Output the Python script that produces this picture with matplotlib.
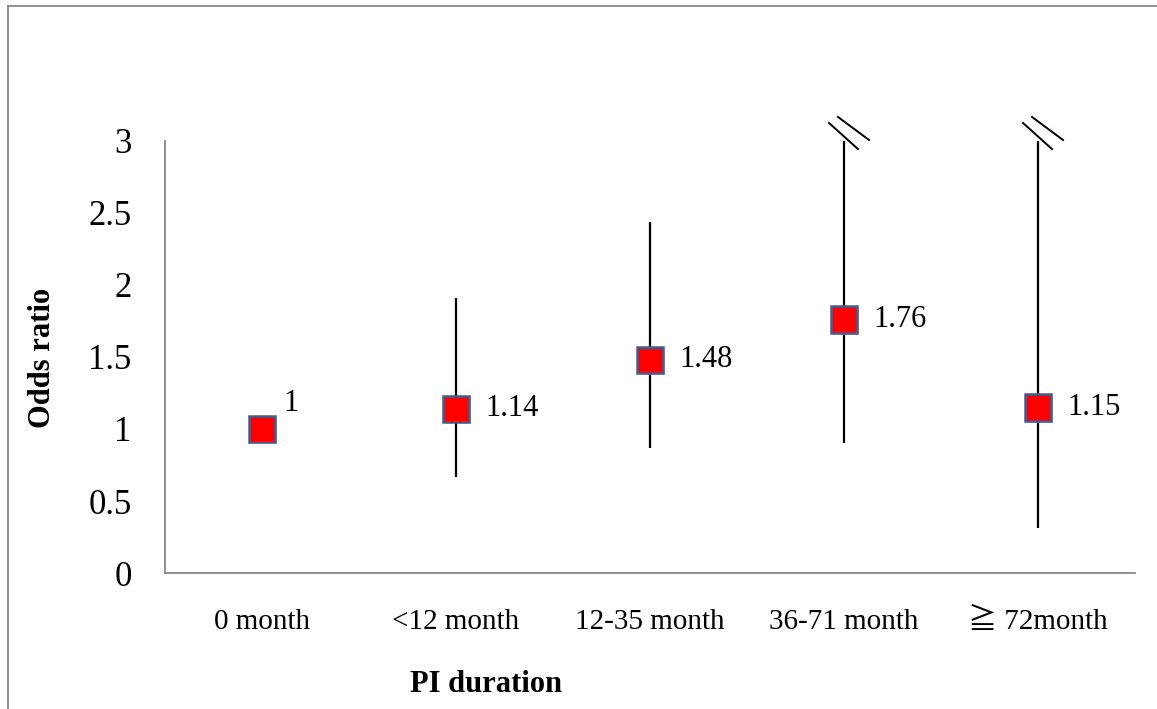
import numpy as np
import matplotlib
matplotlib.use('Agg')
import matplotlib.pyplot as plt
import matplotlib.patheffects as pe
from matplotlib.lines import Line2D

# Datos del gráfico
categorias = ['0 month', '<12 month', '12-35 month', '36-71 month', '\u2267 72month']
odds = [1.00, 1.14, 1.48, 1.76, 1.15]
ic_bajo = [np.nan, 0.67, 0.87, 0.90, 0.31]
ic_alto = [np.nan, 1.91, 2.44, 3.00, 3.00]
cortado = [False, False, False, True, True]   # IC superior fuera de escala
etiquetas = ['1', '1.14', '1.48', '1.76', '1.15']
yticks = [0, 0.5, 1, 1.5, 2, 2.5, 3]
ytick_labels = ['0', '0.5', '1', '1.5', '2', '2.5', '3']

serif = ['Liberation Serif', 'Noto Sans CJK JP', 'DejaVu Sans']
plt.rcParams['font.family'] = serif

fig = plt.figure(figsize=(11.57, 7.09), dpi=100)
W, H = 1157, 709
ax = fig.add_axes([165 / W, 1 - 573 / H, 970 / W, 432 / H])

x = np.arange(len(categorias)) + 0.5
gris = '#878787'

# intervalos de confianza
for xi, lo, hi in zip(x, ic_bajo, ic_alto):
    if np.isnan(lo):
        continue
    ax.plot([xi, xi], [lo, hi], color='black', lw=1.6, solid_capstyle='butt', zorder=2)

# marcas de corte
for xi, c in zip(x, cortado):
    if c:
        ax.plot([xi - 0.077, xi + 0.072], [3.125, 2.944], color='black', lw=1.4, clip_on=False)
        ax.plot([xi - 0.031, xi + 0.129], [3.167, 3.007], color='black', lw=1.4, clip_on=False)

# puntos
ax.plot(x, odds, linestyle='none', marker='s', markersize=19, markerfacecolor='#ff0000',
        markeredgecolor='#4a5a88', markeredgewidth=1.8, zorder=3,
        path_effects=[pe.SimplePatchShadow(offset=(1.5, -1.5), shadow_rgbFace='#888888', alpha=0.35),
                      pe.Normal()])

# etiquetas de datos
for i, (xi, yi, t) in enumerate(zip(x, odds, etiquetas)):
    if i == 0:
        ax.annotate(t, (xi, yi), xytext=(21, 18), textcoords='offset points',
                    ha='center', va='center', fontsize=22)
    else:
        ax.annotate(t, (xi, yi), xytext=(21, 0), textcoords='offset points',
                    ha='left', va='center', fontsize=22)

ax.set_xlim(0, len(categorias))
ax.set_ylim(0, 3)
ax.set_yticks(yticks)
ax.set_yticklabels(ytick_labels, fontsize=25)
ax.set_xticks(x)
ax.set_xticklabels(categorias, fontsize=21, family=serif)
ax.tick_params(axis='both', length=0)
ax.tick_params(axis='y', pad=24)
ax.tick_params(axis='x', pad=26)

for s in ['top', 'right']:
    ax.spines[s].set_visible(False)
for s in ['left', 'bottom']:
    ax.spines[s].set_color(gris)
    ax.spines[s].set_linewidth(1.3)

fig.text(486 / W, 1 - 684 / H, 'PI duration', ha='center', va='center',
         fontsize=22, fontweight='bold')
fig.text(42 / W, 1 - 358 / H, 'Odds ratio', ha='center', va='center',
         fontsize=22, fontweight='bold', rotation=90)

# borde del área del gráfico
fig.add_artist(Line2D([8 / W, 8 / W], [0, 1 - 6 / H], color=gris, lw=1.3))
fig.add_artist(Line2D([8 / W, 1], [1 - 6 / H, 1 - 6 / H], color=gris, lw=1.3))

fig.savefig('out.png', dpi=100)
